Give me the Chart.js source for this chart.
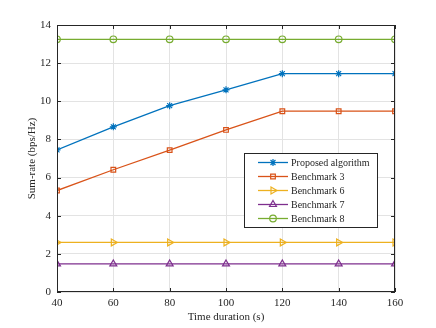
<!DOCTYPE html>
<html>
<head>
<meta charset="utf-8">
<script src="https://cdn.jsdelivr.net/npm/chart.js@4"></script>
<style>
  html, body { margin: 0; padding: 0; background: #fff; }
  #wrap { width: 436px; height: 328px; }
</style>
</head>
<body>
<div id="wrap"><canvas id="mycanvas" width="436" height="328"></canvas></div>
<script>
var times = [40, 60, 80, 100, 120, 140, 160];
var proposed = [7.45, 8.66, 9.77, 10.6, 11.45, 11.45, 11.45];
var bench3 = [5.32, 6.41, 7.44, 8.5, 9.48, 9.48, 9.48];
var bench6 = [2.6, 2.6, 2.6, 2.6, 2.6, 2.6, 2.6];
var bench7 = [1.47, 1.47, 1.47, 1.47, 1.47, 1.47, 1.47];
var bench8 = [13.25, 13.25, 13.25, 13.25, 13.25, 13.25, 13.25];
var xTicks = [40, 60, 80, 100, 120, 140, 160];
var yTicks = [0, 2, 4, 6, 8, 10, 12, 14];

var txt = '#262626';
var font = 'Liberation Serif, Times New Roman, serif';

function pts(vals) {
  var out = [];
  for (var i in times) out.push({x: times[i], y: vals[i]});
  return out;
}

function ds(label, vals, color, style, rot, r) {
  return {
    label: label,
    data: pts(vals),
    borderColor: color,
    backgroundColor: 'rgba(0,0,0,0)',
    borderWidth: 1.3,
    pointStyle: style,
    rotation: rot,
    pointRadius: r,
    pointBorderWidth: 1.2,
    pointBorderColor: color,
    pointBackgroundColor: 'rgba(0,0,0,0)',
    fill: false,
    tension: 0
  };
}

var datasets = [
  ds('Proposed algorithm', proposed, '#0072BD', 'star', 0, 3.5),
  ds('Benchmark 3', bench3, '#D95319', 'rect', 0, 3.3),
  ds('Benchmark 6', bench6, '#EDB120', 'triangle', 90, 4),
  ds('Benchmark 7', bench7, '#7E2F8E', 'triangle', 0, 4),
  ds('Benchmark 8', bench8, '#77AC30', 'circle', 0, 3.3)
];

// box, inward ticks and legend like the original figure
var frame = {
  id: 'frame',
  afterDatasetsDraw: function(chart) {
    var c = chart.ctx, a = chart.chartArea;
    var xs = chart.scales.x, ys = chart.scales.y;
    c.save();
    c.strokeStyle = txt;
    c.lineWidth = 1;
    c.strokeRect(a.left + 0.5, a.top + 0.5, a.right - a.left - 1, a.bottom - a.top - 1);
    c.beginPath();
    xTicks.forEach(function(v) {
      var px = Math.round(xs.getPixelForValue(v)) + 0.5;
      c.moveTo(px, a.bottom); c.lineTo(px, a.bottom - 4);
      c.moveTo(px, a.top); c.lineTo(px, a.top + 4);
    });
    yTicks.forEach(function(v) {
      var py = Math.round(ys.getPixelForValue(v)) + 0.5;
      c.moveTo(a.left, py); c.lineTo(a.left + 4, py);
      c.moveTo(a.right, py); c.lineTo(a.right - 4, py);
    });
    c.stroke();

    // legend
    var lx = 244.5, ly = 153.5, lw = 133, lh = 74;
    c.fillStyle = '#fff';
    c.fillRect(lx, ly, lw, lh);
    c.strokeStyle = '#262626';
    c.lineWidth = 1;
    c.strokeRect(lx, ly, lw, lh);
    c.font = '10px ' + font;
    c.textBaseline = 'middle';
    c.textAlign = 'left';
    chart.data.datasets.forEach(function(d, i) {
      var y = 162.5 + i * 14;
      c.strokeStyle = d.borderColor;
      c.lineWidth = 1.3;
      c.beginPath();
      c.moveTo(258, y); c.lineTo(288, y);
      c.stroke();
      c.lineWidth = 1.2;
      c.fillStyle = 'rgba(0,0,0,0)';
      Chart.helpers.drawPoint(c, {
        pointStyle: d.pointStyle,
        rotation: d.rotation,
        radius: d.pointRadius,
        borderWidth: 1.2
      }, 273, y);
      c.fillStyle = txt;
      c.fillText(d.label, 291, y + 0.5);
    });
    c.restore();
  }
};

var ctx = document.getElementById('mycanvas');
var chart = new Chart(ctx, {
  type: 'line',
  data: { datasets: datasets },
  options: {
    responsive: false,
    animation: false,
    layout: { padding: { left: 0, right: 41, top: 25, bottom: 0 } },
    plugins: { legend: { display: false }, tooltip: { enabled: false } },
    scales: {
      x: {
        type: 'linear',
        min: 40, max: 160,
        afterFit: function(s) { s.height = 36; },
        afterBuildTicks: function(s) { s.ticks = xTicks.map(function(v) { return {value: v}; }); },
        grid: { color: '#e3e3e3', drawTicks: false },
        border: { display: false },
        ticks: { color: txt, font: { family: font, size: 11 }, padding: 5, maxRotation: 0 },
        title: { display: true, text: 'Time duration (s)', color: txt, font: { family: font, size: 11 }, padding: { top: 1, bottom: 4 } }
      },
      y: {
        min: 0, max: 14,
        afterFit: function(s) { s.width = 57; },
        afterBuildTicks: function(s) { s.ticks = yTicks.map(function(v) { return {value: v}; }); },
        grid: { color: '#e3e3e3', drawTicks: false },
        border: { display: false },
        ticks: { color: txt, font: { family: font, size: 11 }, padding: 6 },
        title: { display: true, text: 'Sum-rate (bps/Hz)', color: txt, font: { family: font, size: 11 }, padding: { top: 26, bottom: 0 } }
      }
    }
  },
  plugins: [frame]
});
</script>
</body>
</html>
